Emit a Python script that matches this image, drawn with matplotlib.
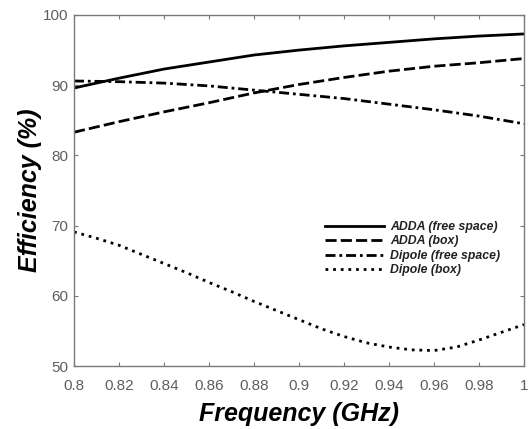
"""
Efficiency vs frequency, ADDA and dipole, free space and box
"""

import matplotlib
matplotlib.use('Agg')
import matplotlib.pyplot as plt
import numpy as np

# frequency grid (GHz)
freq = [0.80, 0.82, 0.84, 0.86, 0.88, 0.90, 0.92, 0.94, 0.96, 0.98, 1.00]
freq_fine = [0.80, 0.81, 0.82, 0.83, 0.84, 0.85, 0.86, 0.87, 0.88, 0.89, 0.90,
             0.91, 0.92, 0.93, 0.94, 0.95, 0.96, 0.97, 0.98, 0.99, 1.00]

# efficiency (%)
adda_free = [89.6, 91.0, 92.3, 93.3, 94.3, 95.0, 95.6, 96.1, 96.6, 97.0, 97.3]
adda_box = [83.3, 84.8, 86.2, 87.5, 88.9, 90.1, 91.1, 92.0, 92.7, 93.2, 93.8]
dipole_free = [90.6, 90.5, 90.3, 89.9, 89.3, 88.7, 88.1, 87.3, 86.5, 85.6, 84.5]
dipole_box = [69.1, 68.2, 67.2, 65.9, 64.6, 63.3, 61.9, 60.6, 59.2, 57.9, 56.6,
              55.3, 54.2, 53.3, 52.7, 52.3, 52.2, 52.7, 53.7, 54.8, 55.9]

xticks = [0.8, 0.82, 0.84, 0.86, 0.88, 0.9, 0.92, 0.94, 0.96, 0.98, 1.0]
xticklabels = ['0.8', '0.82', '0.84', '0.86', '0.88', '0.9', '0.92', '0.94', '0.96', '0.98', '1']
yticks = [50, 60, 70, 80, 90, 100]

plt.rcParams['font.family'] = ['Liberation Sans', 'DejaVu Sans']

fig = plt.figure(figsize=(5.32, 4.29), dpi=100)
ax = fig.add_axes([74 / 532, 63 / 429, 450 / 532, 351 / 429])

lw = 2.0
ax.plot(freq, adda_free, color='black', linewidth=lw, linestyle='-', label='ADDA (free space)')
ax.plot(freq, adda_box, color='black', linewidth=lw, linestyle=(0, (4, 1.5)), label='ADDA (box)')
ax.plot(freq, dipole_free, color='black', linewidth=lw, linestyle=(0, (3.6, 1.4, 1, 1.4)),
        label='Dipole (free space)')
ax.plot(freq_fine, dipole_box, color='black', linewidth=lw, linestyle=(0, (1, 1.75)),
        label='Dipole (box)')

ax.set_xlim(0.8, 1.0)
ax.set_ylim(50, 100)
ax.set_xticks(xticks)
ax.set_xticklabels(xticklabels)
ax.set_yticks(yticks)

gray = '#7a7a7a'
for s in ax.spines.values():
    s.set_color(gray)
    s.set_linewidth(1.0)
ax.tick_params(direction='in', length=3, width=0.8, color=gray, labelcolor='#5e5e5e',
               labelsize=11, top=True, right=True)
ax.tick_params(axis='x', pad=9)
ax.tick_params(axis='y', pad=4)

ax.set_xlabel('Frequency (GHz)', fontsize=18, fontweight='bold', fontstyle='italic', labelpad=7)
ax.set_ylabel('Efficiency (%)', fontsize=18, fontweight='bold', fontstyle='italic', labelpad=1)

leg = ax.legend(loc='upper left', bbox_to_anchor=((325 - 74) / 450, (366 - 221) / 351),
                frameon=False, borderpad=0, borderaxespad=0, handlelength=4.8,
                handletextpad=0.5, labelspacing=0.2,
                prop={'size': 8.8, 'weight': 'bold', 'style': 'italic'})
for t in leg.get_texts():
    t.set_color('#222222')

fig.savefig('out.png', dpi=100)
